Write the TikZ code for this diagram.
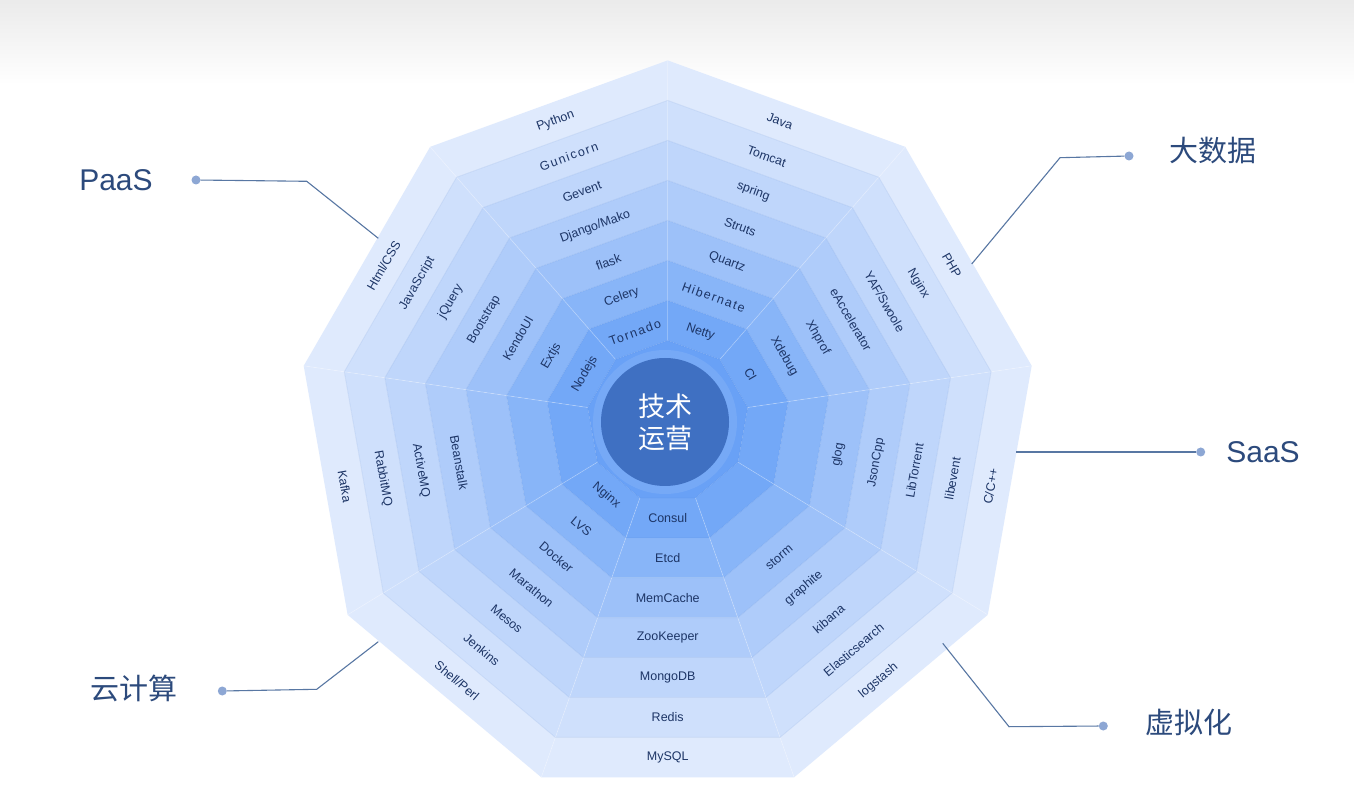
\documentclass[tikz,border=0pt]{standalone}
\usepackage{fontspec}
\setmainfont{Liberation Sans}
\newfontfamily\cjk{Noto Sans CJK SC}
\usetikzlibrary{calc}
\definecolor{r0}{HTML}{DFEAFD}
\definecolor{r1}{HTML}{CFE0FC}
\definecolor{r2}{HTML}{BFD6FB}
\definecolor{r3}{HTML}{AFCCFA}
\definecolor{r4}{HTML}{9DC1F9}
\definecolor{r5}{HTML}{88B5F8}
\definecolor{r6}{HTML}{73A8F7}
\definecolor{rcore}{HTML}{69A1F6}
\definecolor{hubc}{HTML}{3F70C2}
\definecolor{labc}{HTML}{1D3566}
\definecolor{catc}{HTML}{2C4A7C}
\definecolor{linec}{HTML}{5877A3}
\definecolor{dotc}{HTML}{8DA7D4}
\definecolor{edgec}{HTML}{3A6FC8}
\def\cx{667.7}
\tikzset{
  lab/.style={text=labc, font=\fontsize{12.5}{14}\selectfont, inner sep=0pt},
  ls/.style={font=\fontsize{12.5}{14}\selectfont\addfontfeature{LetterSpace=12}},
  cat/.style={text=catc, font=\fontsize{30}{34}\selectfont, inner sep=0pt},
  catcjk/.style={text=catc, font=\cjk\fontsize{29}{34}\selectfont, inner sep=0pt},
  leader/.style={draw=linec, line width=1.1pt},
  dot/.style={circle, fill=dotc, inner sep=0pt, minimum size=9pt},
  radial/.style={draw=white, draw opacity=.28, line width=.7pt},
  ringedge/.style={draw=edgec, draw opacity=.10, line width=.8pt},
}
\newcommand\ringlabel[4][]{%
  \pgfmathsetmacro\RLr{(739.2-41.2*(2*#2+1))/2*cos(20)}%
  \pgfmathsetmacro\RLy{371+1.2*#2+0.6}%
  \pgfmathsetmacro\RLa{#3>0 ? #3-90 : #3+90}%
  \node[lab,rotate=\RLa,#1] (lab#2#3) at ($(\cx,\RLy)+(#3:\RLr)$) {#4};%
}
\begin{document}
\begin{tikzpicture}[x=1pt,y=1pt]
\useasboundingbox (0,0) rectangle (1354,801);
\fill[white] (0,0) rectangle (1354,801);
\shade[top color=black!8, bottom color=white] (0,716) rectangle (1354,801);

% rings (filled trapezoids)
\foreach \k in {0,...,6} {
  \pgfmathsetmacro\Ra{369.6-41.2*\k}
  \pgfmathsetmacro\Rb{369.6-41.2*(\k+1)}
  \pgfmathsetmacro\ya{371+1.2*\k}
  \pgfmathsetmacro\yb{371+1.2*(\k+1)}
  \foreach \i in {0,...,8} {
    \pgfmathsetmacro\va{90-40*\i}
    \pgfmathsetmacro\vb{50-40*\i}
    \fill[r\k] ($(\cx,\ya)+(\va:\Ra)$) -- ($(\cx,\ya)+(\vb:\Ra)$)
      -- ($(\cx,\yb)+(\vb:\Rb)$) -- ($(\cx,\yb)+(\va:\Rb)$) -- cycle;
    \draw[radial] ($(\cx,\ya)+(\va:\Ra)$) -- ($(\cx,\yb)+(\va:\Rb)$);
  }
}
\fill[rcore] ($(\cx,379.4)+(90:81.2)$)
  \foreach \i [evaluate=\i as \ang using 90-40*\i] in {1,...,8} { -- ($(\cx,379.4)+(\ang:81.2)$) } -- cycle;
% ring edges
\foreach \k in {1,...,7} {
  \pgfmathsetmacro\Ra{369.6-41.2*\k}
  \pgfmathsetmacro\ya{371+1.2*\k}
  \draw[ringedge] ($(\cx,\ya)+(90:\Ra)$)
    \foreach \i [evaluate=\i as \ang using 90-40*\i] in {1,...,8} { -- ($(\cx,\ya)+(\ang:\Ra)$) } -- cycle;
}
\fill[white, opacity=.09] (665,379) circle (72);
\node[circle, fill=hubc, minimum size=128pt, inner sep=0pt, text=white, align=center,
  font=\cjk\fontsize{27}{32}\selectfont] (hub) at (665,379) {技术\\运营};

% labels
\ringlabel{0}{110}{Python}
\ringlabel[ls]{1}{110}{Gunicorn}
\ringlabel{2}{110}{Gevent}
\ringlabel{3}{110}{Django/Mako}
\ringlabel{4}{110}{flask}
\ringlabel{5}{110}{Celery}
\ringlabel[ls]{6}{110}{Tornado}

\ringlabel{0}{70}{Java}
\ringlabel{1}{70}{Tomcat}
\ringlabel{2}{70}{spring}
\ringlabel{3}{70}{Struts}
\ringlabel{4}{70}{Quartz}
\ringlabel[ls]{5}{70}{Hibernate}
\ringlabel{6}{70}{Netty}

\ringlabel{0}{30}{PHP}
\ringlabel{1}{30}{Nginx}
\ringlabel{2}{30}{YAF/Swoole}
\ringlabel{3}{30}{eAccelerator}
\ringlabel{4}{30}{Xhprof}
\ringlabel{5}{30}{Xdebug}
\ringlabel{6}{30}{CI}

\ringlabel{0}{-10}{C/C++}
\ringlabel{1}{-10}{libevent}
\ringlabel{2}{-10}{LibTorrent}
\ringlabel{3}{-10}{JsonCpp}
\ringlabel{4}{-10}{glog}

\ringlabel{0}{-50}{logstash}
\ringlabel{1}{-50}{Elasticsearch}
\ringlabel{2}{-50}{kibana}
\ringlabel{3}{-50}{graphite}
\ringlabel{4}{-50}{storm}

\ringlabel{0}{-90}{MySQL}
\ringlabel{1}{-90}{Redis}
\ringlabel{2}{-90}{MongoDB}
\ringlabel{3}{-90}{ZooKeeper}
\ringlabel{4}{-90}{MemCache}
\ringlabel{5}{-90}{Etcd}
\ringlabel{6}{-90}{Consul}

\ringlabel{0}{-130}{Shell/Perl}
\ringlabel{1}{-130}{Jenkins}
\ringlabel{2}{-130}{Mesos}
\ringlabel{3}{-130}{Marathon}
\ringlabel{4}{-130}{Docker}
\ringlabel{5}{-130}{LVS}
\ringlabel{6}{-130}{Nginx}

\ringlabel{0}{-170}{Kafka}
\ringlabel{1}{-170}{RabbitMQ}
\ringlabel{2}{-170}{ActiveMQ}
\ringlabel{3}{-170}{Beanstalk}

\ringlabel{0}{150}{Html/CSS}
\ringlabel{1}{150}{JavaScript}
\ringlabel{2}{150}{jQuery}
\ringlabel{3}{150}{Bootstrap}
\ringlabel{4}{150}{KendoUI}
\ringlabel{5}{150}{Extjs}
\ringlabel{6}{150}{Nodejs}

% category labels and leaders
\node[cat] (paas) at (116,621) {PaaS};
\node[dot] (dpaas) at (196,621) {};
\coordinate (kpaas) at (306.7,619.7);
\coordinate (epaas) at (378.3,562.7);
\draw[leader] (dpaas) -- (kpaas) -- (epaas);

\node[catcjk] (bigdata) at (1213,650) {大数据};
\node[dot] (dbig) at (1129,645) {};
\coordinate (kbig) at (1060,643.3);
\coordinate (ebig) at (971.7,537);
\draw[leader] (dbig) -- (kbig) -- (ebig);

\node[cat] (saas) at (1263,349) {SaaS};
\node[dot] (dsaas) at (1200.7,349) {};
\coordinate (esaas) at (1016,349);
\draw[leader] (dsaas) -- (esaas);

\node[catcjk] (cloud) at (134,113) {云计算};
\node[dot] (dcloud) at (222.3,110) {};
\coordinate (kcloud) at (316.7,111.7);
\coordinate (ecloud) at (378.3,159.3);
\draw[leader] (dcloud) -- (kcloud) -- (ecloud);

\node[catcjk] (virt) at (1189,79) {虚拟化};
\node[dot] (dvirt) at (1103.3,75) {};
\coordinate (kvirt) at (1009,74.3);
\coordinate (evirt) at (942.7,157.7);
\draw[leader] (dvirt) -- (kvirt) -- (evirt);
\end{tikzpicture}
\end{document}
